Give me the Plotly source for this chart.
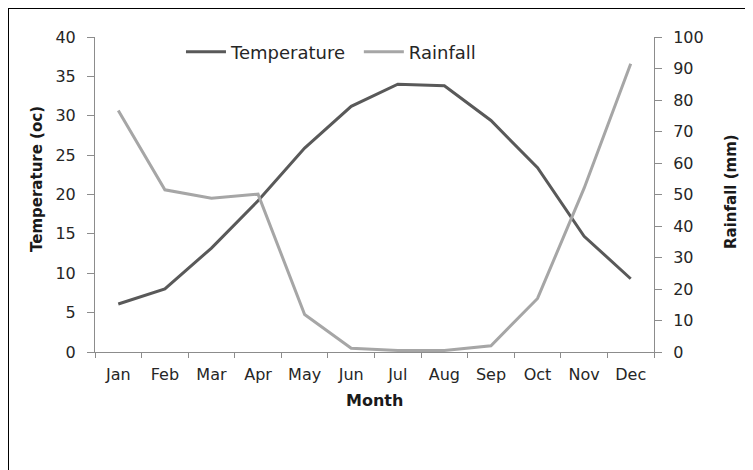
import plotly.graph_objects as go

months = ["Jan", "Feb", "Mar", "Apr", "May", "Jun", "Jul", "Aug", "Sep", "Oct", "Nov", "Dec"]
temperature = [6.1, 8.0, 13.2, 19.2, 25.9, 31.2, 34.0, 33.8, 29.4, 23.4, 14.7, 9.3]
rainfall = [76.7, 51.5, 48.8, 50.1, 11.9, 1.2, 0.5, 0.5, 2.0, 17.0, 52.0, 91.5]

font_family = "DejaVu Sans, sans-serif"
axis_color = "#8c8c8c"
text_color = "#262626"

fig = go.Figure()
fig.add_trace(go.Scatter(x=months, y=temperature, name="Temperature", mode="lines",
                         line=dict(color="#595959", width=3), yaxis="y", legend="legend"))
fig.add_trace(go.Scatter(x=months, y=rainfall, name="Rainfall", mode="lines",
                         line=dict(color="#a6a6a6", width=3), yaxis="y2", legend="legend2"))

leg_common = dict(orientation="h", yanchor="middle", xanchor="left", y=0.952,
                  bgcolor="rgba(0,0,0,0)", font=dict(size=18, color=text_color,
                                                      family=font_family),
                  itemwidth=40)

fig.update_layout(
    width=753, height=470,
    margin=dict(l=87, r=107, t=29, b=126, autoexpand=False),
    paper_bgcolor="white", plot_bgcolor="white",
    font=dict(family=font_family, size=16, color=text_color),
    showlegend=True,
    legend=dict(x=0.1538, **leg_common),
    legend2=dict(x=0.472, **leg_common),
    xaxis=dict(
        type="category", range=[-0.5, 11.5], showline=True, linecolor=axis_color,
        linewidth=1, ticks="outside", tickson="boundaries", ticklen=5,
        tickcolor=axis_color, showgrid=False, zeroline=False, automargin=False,
        ticklabelstandoff=8, tickfont=dict(size=16, color=text_color),
    ),
    yaxis=dict(
        range=[0, 40], dtick=5, showline=True, linecolor=axis_color, linewidth=1,
        ticks="outside", ticklen=7, tickcolor=axis_color,
        showgrid=False, zeroline=False, automargin=False,
        ticklabelstandoff=8, tickfont=dict(size=16, color=text_color),
    ),
    yaxis2=dict(
        range=[0, 100], dtick=10, overlaying="y", side="right",
        showline=True, linecolor=axis_color, linewidth=1,
        ticks="outside", ticklen=7, tickcolor=axis_color,
        showgrid=False, zeroline=False, automargin=False,
        ticklabelstandoff=8, tickfont=dict(size=16, color=text_color),
    ),
)

title_font = dict(family="DejaVu Sans, sans-serif", color="#1a1a1a")
fig.add_annotation(text="<b>Month</b>", xref="paper", yref="paper",
                   x=(374 - 95) / 559, y=(352 - 401) / 315, showarrow=False,
                   xanchor="center", yanchor="middle", font=dict(size=16, **title_font))
fig.add_annotation(text="<b>Temperature (oc)</b>", xref="paper", yref="paper",
                   x=(37 - 95) / 559, y=(352 - 179) / 315, showarrow=False, textangle=-90,
                   xanchor="center", yanchor="middle", font=dict(size=15, **title_font))
fig.add_annotation(text="<b>Rainfall (mm)</b>", xref="paper", yref="paper",
                   x=(731 - 95) / 559, y=(352 - 192) / 315, showarrow=False, textangle=-90,
                   xanchor="center", yanchor="middle", font=dict(size=15, **title_font))

# outer chart border (the figure edge; cropped on the right and bottom)
fig.add_shape(type="rect", xref="paper", yref="paper",
              x0=-87 / 559, y0=-0.6, x1=1.3, y1=(352 - 8) / 315,
              line=dict(color="black", width=2), fillcolor="rgba(0,0,0,0)", layer="below")

fig.write_html("out.html")
